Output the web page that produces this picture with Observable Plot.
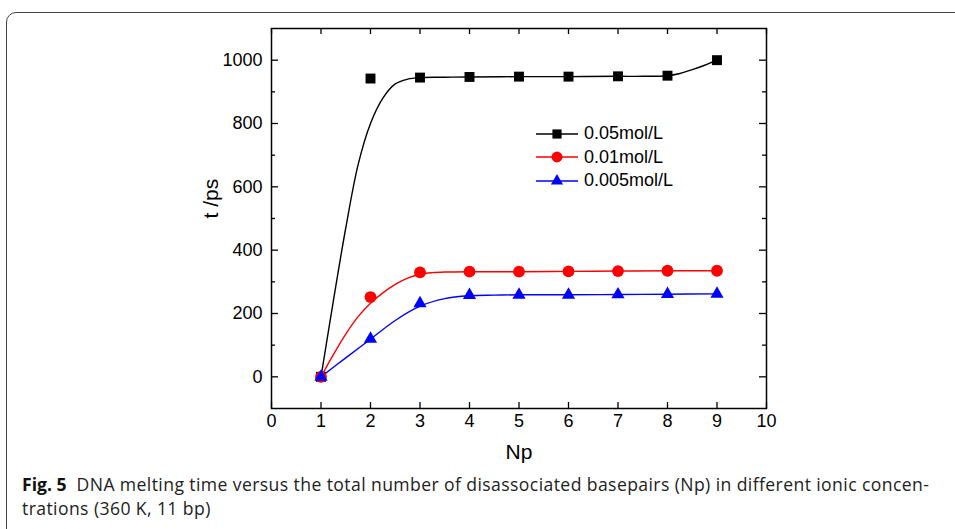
<!DOCTYPE html>
<html><head><meta charset="utf-8">
<script src="https://cdn.jsdelivr.net/npm/d3@7"></script>
<script src="https://cdn.jsdelivr.net/npm/@observablehq/plot@0.6"></script>
<style>
body{margin:0;background:#fff;width:955px;height:529px;overflow:hidden;position:relative;font-family:"Liberation Sans",Arial,sans-serif}
#border{position:absolute;left:6px;top:12px;width:1000px;height:600px;border:1.5px solid #444;border-radius:10px;}
#chart{position:absolute;left:0;top:0}
#legend{position:absolute;left:535px;top:122px}
.row{display:flex;align-items:center;height:23.5px}
.row span{font-size:18px;color:#000;margin-left:5px}
#caption{position:absolute;left:22px;top:472px;font-family:"Open Sans";font-size:17.6px;letter-spacing:0.4px;line-height:24px;color:#222;white-space:nowrap}
#caption b{font-weight:700;color:#111;letter-spacing:0}
</style></head>
<body>
<div id="border"></div>
<div id="chart"></div>
<div id="legend"></div>
<div id="caption"><b>Fig. 5</b>&nbsp; DNA melting time versus the total number of disassociated basepairs (Np) in different ionic concen-<br>trations (360 K, 11 bp)</div>
<script>
// measured points
const np = [1,2,3,4,5,6,7,8,9];
const t005 = [0,942,945,947,948,948,949,951,1000];
const t001 = [0,252,330,332,332,333,334,335,335];
const t0005 = [0,120,232,258,259,259,260,261,262];
// fitted curves
const fitNp005 = [1,1.25,1.5,1.75,2,2.25,2.5,2.75,3,3.5,4,5,6,7,7.5,8,8.25,8.5,8.75,9];
const fitT005 = [0,240,470,670,800,880,925,940,945,946,947,948,948,949,949,951,958,970,984,1000];
const fitNp001 = [1,1.25,1.5,1.75,2,2.25,2.5,2.75,3,3.25,3.5,4,5,6,7,8,9];
const fitT001 = [0,70,135,190,232,265,292,312,324,329,331,332,332,333,334,335,335];
const fitNp0005 = [1,1.5,2,2.5,3,3.5,4,4.5,5,6,7,8,9];
const fitT0005 = [0,60,119,178,223,247,256,258,259,259,260,261,262];
const seriesNames = ["0.05mol/L","0.01mol/L","0.005mol/L"];
const seriesColors = ["#000000","#ff0000","#0000ff"];
const seriesSymbols = ["square","circle","triangle"];
const xTicks = [0,1,2,3,4,5,6,7,8,9,10];
const yMajor = [0,200,400,600,800,1000];
const yMinor = [100,300,500,700,900];

const pts = [t005,t001,t0005];
const fits = [[fitNp005,fitT005],[fitNp001,fitT001],[fitNp0005,fitT0005]];
const symR = [5.6,5.9,4.9];

const W = 955, H = 470, mL = 271, mR = 189, mT = 28, mB = 62;
const fw = W - mL - mR, fh = H - mT - mB;

const marks = [];
marks.push(Plot.axisX(xTicks,{anchor:"bottom",tickSize:0,tickPadding:6,fontSize:18,label:null,tickFormat:d=>String(d)}));
marks.push(Plot.axisY(yMajor,{anchor:"left",tickSize:0,tickPadding:9,fontSize:18,label:null,tickFormat:d=>String(d)}));
// inward ticks
marks.push(Plot.ruleX(xTicks,{x:d=>d,insetTop:fh-6,strokeWidth:1.3}));
marks.push(Plot.ruleX(xTicks,{x:d=>d,insetBottom:fh-6,strokeWidth:1.3}));
marks.push(Plot.ruleY(yMajor,{y:d=>d,insetRight:fw-7,strokeWidth:1.3}));
marks.push(Plot.ruleY(yMajor,{y:d=>d,insetLeft:fw-7,strokeWidth:1.3}));
marks.push(Plot.ruleY(yMinor,{y:d=>d,insetRight:fw-4,strokeWidth:1.3}));
marks.push(Plot.ruleY(yMinor,{y:d=>d,insetLeft:fw-4,strokeWidth:1.3}));
marks.push(Plot.frame({stroke:"black",strokeWidth:1.5}));
fits.forEach(([xs,ys],i)=>{
  const data = xs.map((x,j)=>({x,y:ys[j]}));
  marks.push(Plot.line(data,{x:"x",y:"y",stroke:seriesColors[i],strokeWidth:1.4,curve:"catmull-rom"}));
});
pts.forEach((ys,i)=>{
  const data = np.map((x,j)=>({x,y:ys[j]}));
  marks.push(Plot.dot(data,{x:"x",y:"y",symbol:seriesSymbols[i],fill:seriesColors[i],r:symR[i]}));
});
marks.push(Plot.text(["t /ps"],{frameAnchor:"left",dx:-60,rotate:-90,fontSize:21,lineAnchor:"middle"}));
marks.push(Plot.text(["Np"],{frameAnchor:"bottom",dy:44,fontSize:21,lineAnchor:"middle"}));

const chart = Plot.plot({
  width:W, height:H,
  marginLeft:mL, marginRight:mR, marginTop:mT, marginBottom:mB,
  style:{fontFamily:"Liberation Sans, Arial, sans-serif",fontSize:"18px",background:"transparent",color:"#000"},
  x:{domain:[0,10]},
  y:{domain:[-100,1100]},
  symbol:{type:"identity"},
  marks
});
document.getElementById("chart").append(chart);

// legend
const lg = document.getElementById("legend");
seriesNames.forEach((name,i)=>{
  const row = document.createElement("div"); row.className="row";
  const ns="http://www.w3.org/2000/svg";
  const svg=document.createElementNS(ns,"svg"); svg.setAttribute("width",44); svg.setAttribute("height",20);
  const ln=document.createElementNS(ns,"line");
  ln.setAttribute("x1",1);ln.setAttribute("x2",43);ln.setAttribute("y1",10);ln.setAttribute("y2",10);
  ln.setAttribute("stroke",seriesColors[i]);ln.setAttribute("stroke-width",1.4);
  svg.append(ln);
  const sym = {square:d3.symbolSquare,circle:d3.symbolCircle,triangle:d3.symbolTriangle}[seriesSymbols[i]];
  const p=document.createElementNS(ns,"path");
  p.setAttribute("d",d3.symbol(sym,Math.PI*symR[i]*symR[i]*0.85)());
  p.setAttribute("transform","translate(22,10)");p.setAttribute("fill",seriesColors[i]);
  svg.append(p);
  const sp=document.createElement("span"); sp.textContent=name;
  row.append(svg,sp); lg.append(row);
});
</script>
</body></html>
